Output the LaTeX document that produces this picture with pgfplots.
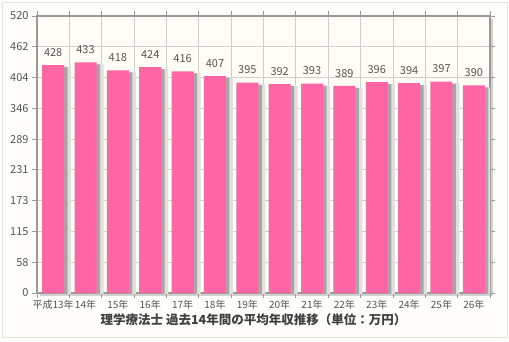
\documentclass[border=0pt]{standalone}
\usepackage{pgfplots}
\pgfplotsset{compat=1.18}
\usepackage{fontspec}
\setmainfont{Noto Sans CJK JP}
\usetikzlibrary{shadows}
\definecolor{barpink}{HTML}{FF66A3}
\definecolor{plotbg}{HTML}{FFFDF6}
\definecolor{outerbg}{HTML}{FFFEFA}
\definecolor{framec}{HTML}{E6E6D6}
\definecolor{gridc}{HTML}{CFCFCF}
\definecolor{axisc}{HTML}{999999}
\definecolor{textc}{HTML}{555555}
\begin{document}
\begin{tikzpicture}[x=1pt,y=1pt]
\fill[white] (-37,-48) rectangle (472,293);
\draw[draw=framec, fill=outerbg] (-35,-44) rectangle (470,291);
\begin{axis}[
  at={(0,0)}, anchor=south west,
  scale only axis, width=453pt, height=277pt,
  xmin=-0.5, xmax=13.5, ymin=0, ymax=520,
  axis background/.style={fill=plotbg, drop shadow={shadow xshift=3pt, shadow yshift=-3pt, opacity=0.35}},
  axis line style={draw=axisc, line width=1.6pt},
  ytick={0,57.7778,115.5556,173.3333,231.1111,288.8889,346.6667,404.4444,462.2222,520},
  yticklabels={0,58,115,173,231,289,346,404,462,520},
  ymajorgrids, xminorgrids,
  grid style={draw=gridc, line width=0.8pt},
  minor grid style={draw=gridc, line width=0.8pt},
  xtick={0,...,13},
  xticklabels={平成13年,14年,15年,16年,17年,18年,19年,20年,21年,22年,23年,24年,25年,26年},
  minor xtick={-0.5,0.5,...,13.5},
  major x tick style={draw=none},
  tick align=outside,
  major tick length=5pt, minor tick length=5pt,
  tick style={draw=axisc, line width=0.8pt},
  /pgf/number format/assume math mode=true,
  yticklabel style={font=\fontsize{11}{13}\selectfont, text=textc},
  xticklabel style={font=\fontsize{10}{12}\selectfont, text=textc, yshift=1pt},
  xlabel={\bfseries 理学療法士 過去14年間の平均年収推移（単位：万円）},
  xlabel style={font=\fontsize{12.5}{14}\selectfont, text=black!75, xshift=-10pt, yshift=3pt},
]
\addplot[ybar, bar width=6pt, bar shift=15pt, draw=none, fill=black!12, yshift=-2pt, forget plot]
coordinates {(0,428) (1,433) (2,418) (3,424) (4,416) (5,407) (6,395) (7,392) (8,393) (9,389) (10,396) (11,394) (12,397) (13,390)};
\addplot[ybar, bar width=4pt, bar shift=12.5pt, draw=none, fill=black!35, yshift=-2pt, forget plot]
coordinates {(0,428) (1,433) (2,418) (3,424) (4,416) (5,407) (6,395) (7,392) (8,393) (9,389) (10,396) (11,394) (12,397) (13,390)};
\addplot[ybar, bar width=22pt, bar shift=0pt, fill=barpink, draw=none,
  nodes near coords,
  every node near coord/.append style={font=\fontsize{11}{13}\selectfont, text=textc, yshift=5pt}]
coordinates {(0,428) (1,433) (2,418) (3,424) (4,416) (5,407) (6,395) (7,392) (8,393) (9,389) (10,396) (11,394) (12,397) (13,390)};
\end{axis}
\end{tikzpicture}
\end{document}
